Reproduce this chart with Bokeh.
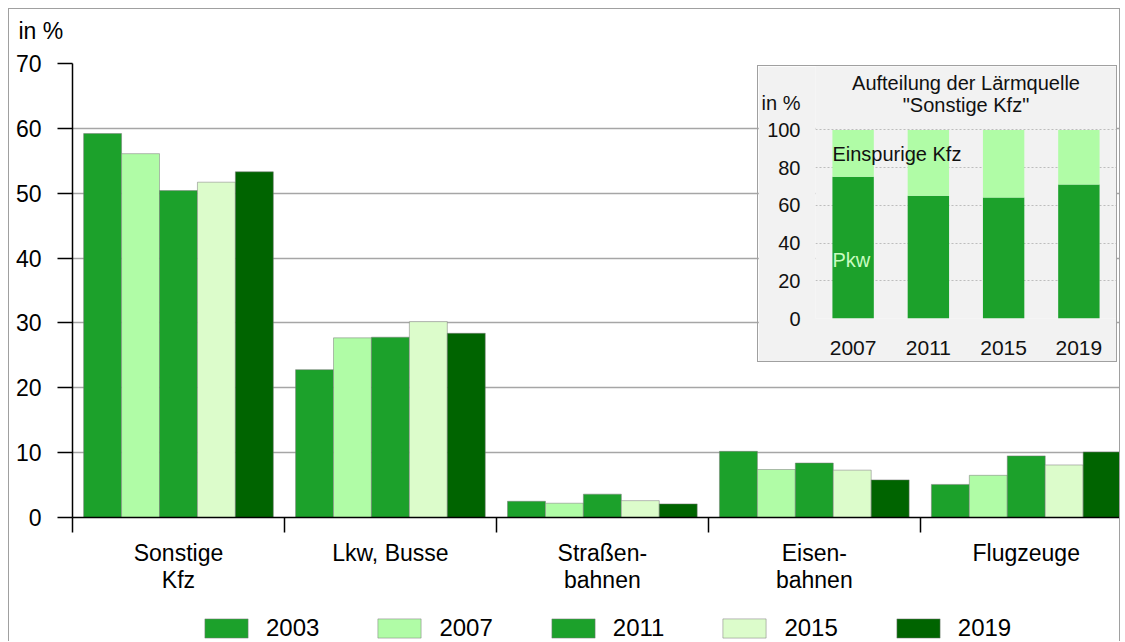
from bokeh.plotting import figure
from bokeh.models import (Range1d, FixedTicker, SingleIntervalTicker, Label, Legend,
                          LegendItem, FactorRange, ColumnDataSource)
from bokeh.transform import dodge
from bokeh.embed import file_html
from bokeh.resources import INLINE

# ---------------- data ----------------
categories = ["Sonstige\nKfz", "Lkw, Busse", "Straßen-\nbahnen", "Eisen-\nbahnen", "Flugzeuge"]
years = ["2003", "2007", "2011", "2015", "2019"]
v2003 = [59.2, 22.8, 2.5, 10.2, 5.1]
v2007 = [56.1, 27.7, 2.2, 7.4, 6.5]
v2011 = [50.4, 27.8, 3.6, 8.4, 9.5]
v2015 = [51.7, 30.2, 2.6, 7.3, 8.1]
v2019 = [53.3, 28.4, 2.1, 5.8, 10.1]
year_colors = ["#1ca12b", "#b0fca6", "#1ca12b", "#dcfccb", "#006400"]

inset_years = ["2007", "2011", "2015", "2019"]
pkw = [75.2, 65.1, 64.2, 71.0]
einspurig = [24.8, 34.9, 35.8, 29.0]
inset_colors = ["#1ca12b", "#b0fca6"]
inset_ticks = [0, 20, 40, 60, 80, 100]

y_unit = "in %"
inset_title = ["Aufteilung der Lärmquelle", "\"Sonstige Kfz\""]
segment_labels = ["Pkw", "Einspurige Kfz"]

FONT = "Liberation Sans"
BAR_LINE = dict(line_color="#7a7a7a", line_alpha=0.5, line_width=1)


def bare(fig):
    fig.outline_line_color = None
    fig.background_fill_alpha = 0
    fig.border_fill_alpha = 0
    fig.grid.visible = False


# ---------------- main chart ----------------
p = figure(width=1112, height=633, x_range=Range1d(0, 4.94), y_range=Range1d(0, 70),
           output_backend="svg", toolbar_location=None,
           min_border_left=63, min_border_top=54, min_border_right=2, min_border_bottom=125)
p.styles = {"position": "absolute", "left": "8px", "top": "8px",
            "border": "1px solid #a0a0a0", "border-bottom": "none"}
p.outline_line_color = None
p.background_fill_color = "white"
p.border_fill_color = "white"

src = ColumnDataSource(dict(x=[i + 0.5 for i in range(len(categories))],
                            v2003=v2003, v2007=v2007, v2011=v2011, v2015=v2015, v2019=v2019))
bw = 0.179
offsets = [-2 * bw, -bw, 0.0, bw, 2 * bw]
for yr, col, off in zip(years, year_colors, offsets):
    p.vbar(x=dodge("x", off), top="v" + yr, width=bw, source=src, fill_color=col, **BAR_LINE)

# x axis
xax = p.xaxis[0]
xax.ticker = FixedTicker(ticks=[i + 0.5 for i in range(len(categories))],
                         minor_ticks=list(range(len(categories) + 1)))
xax.major_label_overrides = {i + 0.5: c for i, c in enumerate(categories)}
xax.major_tick_line_color = None
xax.major_tick_out = 0
xax.major_tick_in = 0
xax.minor_tick_out = 15
xax.minor_tick_in = 0
xax.minor_tick_line_color = "black"
xax.minor_tick_line_width = 1.5
xax.axis_line_color = "black"
xax.axis_line_width = 1.5
xax.major_label_standoff = 7
xax.major_label_text_font = FONT
xax.major_label_text_font_size = "23px"
xax.major_label_text_color = "black"
xax.major_label_text_line_height = 1.05

# y axis
yax = p.yaxis[0]
yax.ticker = SingleIntervalTicker(interval=10, num_minor_ticks=0)
yax.major_tick_out = 15
yax.major_tick_in = 0
yax.major_tick_line_color = "black"
yax.major_tick_line_width = 1.5
yax.minor_tick_line_color = None
yax.axis_line_color = "black"
yax.axis_line_width = 1.5
yax.major_label_standoff = 16
yax.major_label_text_font = FONT
yax.major_label_text_font_size = "23px"
yax.major_label_text_color = "black"

p.xgrid.visible = False
p.ygrid.grid_line_color = "#a6a6a6"
p.ygrid.grid_line_width = 1.5

# ---------------- unit label above the y axis ----------------
unit = figure(width=60, height=28, output_backend="svg", toolbar_location=None,
              x_axis_location=None, y_axis_location=None, min_border=0)
unit.styles = {"position": "absolute", "left": "17px", "top": "16px"}
bare(unit)
unit.add_layout(Label(x=1, y=14, x_units="screen", y_units="screen", text=y_unit,
                      text_font=FONT, text_font_size="23px", text_color="black",
                      text_align="left", text_baseline="middle"))

# ---------------- legend strip below the main chart ----------------
lg = figure(width=830, height=26, output_backend="svg", toolbar_location=None,
            x_range=Range1d(100, 101), y_range=Range1d(100, 101),
            x_axis_location=None, y_axis_location=None, min_border=0)
lg.styles = {"position": "absolute", "left": "199px", "top": "614px"}
bare(lg)
legend_renderers = [lg.vbar(x=dodge("x", off), top="v" + yr, width=bw, source=src,
                            fill_color=col, **BAR_LINE)
                    for yr, col, off in zip(years, year_colors, offsets)]
legend = Legend(items=[LegendItem(label=yr, renderers=[r]) for yr, r in zip(years, legend_renderers)],
                orientation="horizontal", location="top_left",
                glyph_width=54, glyph_height=24, label_standoff=13, spacing=53,
                padding=0, margin=0, border_line_color=None, background_fill_alpha=0,
                label_text_font=FONT, label_text_font_size="24px", label_text_color="black")
lg.add_layout(legend, "center")

# ---------------- inset chart ----------------
ins = figure(width=360, height=297, x_range=FactorRange(*inset_years, range_padding=0),
             y_range=Range1d(0, 133.6), output_backend="svg", toolbar_location=None,
             min_border_left=54, min_border_top=0, min_border_right=2, min_border_bottom=45)
ins.styles = {"position": "absolute", "left": "757px", "top": "65px",
              "border": "1px solid #a0a0a0"}
ins.background_fill_color = "#f2f2f2"
ins.border_fill_color = "#f2f2f2"
ins.outline_line_color = None

isrc = ColumnDataSource(dict(year=inset_years, pkw=pkw, einspurig=einspurig))
ins.vbar_stack(["pkw", "einspurig"], x="year", width=0.55, color=inset_colors,
               line_color=None, source=isrc)

ix = ins.xaxis[0]
ix.axis_line_color = None
ix.major_tick_line_color = None
ix.minor_tick_line_color = None
ix.major_label_standoff = 16
ix.major_label_text_font = FONT
ix.major_label_text_font_size = "21px"
ix.major_label_text_color = "#111111"

iy = ins.yaxis[0]
iy.ticker = FixedTicker(ticks=inset_ticks + [114])
iy.major_label_overrides = {114: y_unit}
iy.axis_line_color = None
iy.major_tick_line_color = None
iy.minor_tick_line_color = None
iy.major_label_standoff = 9
iy.major_label_text_font = FONT
iy.major_label_text_font_size = "20px"
iy.major_label_text_color = "#111111"

ins.xgrid.visible = False
ins.ygrid.ticker = FixedTicker(ticks=inset_ticks)
ins.ygrid.grid_line_color = "#bdbdbd"
ins.ygrid.grid_line_dash = "2 2"
ins.ygrid.grid_line_width = 1

ins.add_layout(Label(x=2.0, y=124.6, text=inset_title[0],
                     text_font=FONT, text_font_size="20px", text_color="#111111",
                     text_align="center", text_baseline="middle"))
ins.add_layout(Label(x=2.0, y=113.4, text=inset_title[1],
                     text_font=FONT, text_font_size="20px", text_color="#111111",
                     text_align="center", text_baseline="middle"))
ins.add_layout(Label(x=0.225, y=87, text=segment_labels[1],
                     text_font=FONT, text_font_size="20px", text_color="#111111",
                     text_align="left", text_baseline="middle"))
ins.add_layout(Label(x=0.225, y=31, text=segment_labels[0],
                     text_font=FONT, text_font_size="20px", text_color="#c8fcc0",
                     text_align="left", text_baseline="middle"))

open("out.html", "w").write(file_html([p, unit, lg, ins], INLINE))
